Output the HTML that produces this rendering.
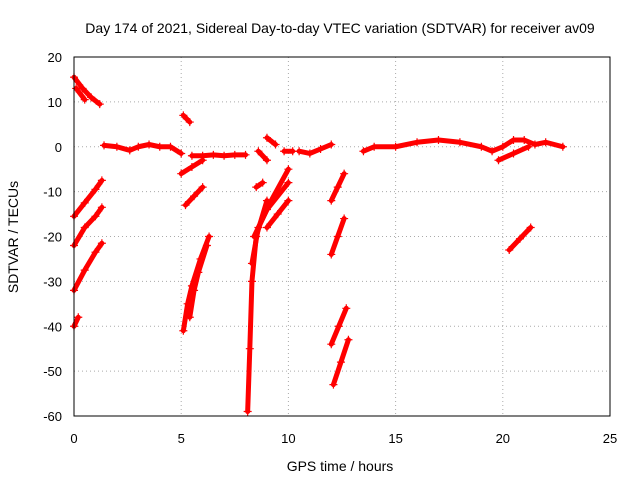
<!DOCTYPE html>
<html><head><meta charset="utf-8"><style>
body{margin:0;background:#fff;}
svg{display:block;font-family:"Liberation Sans",sans-serif;}
</style></head><body>
<svg id="chart" width="640" height="480">
<rect width="640" height="480" fill="#fff"/>
<text x="340" y="33" font-size="14" text-anchor="middle">Day 174 of 2021, Sidereal Day-to-day VTEC variation (SDTVAR) for receiver av09</text>
<text x="340" y="471" font-size="14" text-anchor="middle">GPS time / hours</text>
<text x="18" y="237" font-size="14" text-anchor="middle" transform="rotate(-90 18 237)">SDTVAR / TECUs</text>
<g id="grid"></g><g id="series"></g>
<rect x="74" y="57" width="536" height="359" fill="none" stroke="#000"/>
</svg>
<script>
const xTicks=[0,5,10,15,20,25];
const yTicks=[20,10,0,-10,-20,-30,-40,-50,-60];
const tracks=[
[[0,15.5],[0.4,13],[0.8,11],[1.2,9.5]],
[[0.1,13],[0.5,10.5]],
[[0,-15.5],[0.5,-12.5],[1,-9.5],[1.3,-7.5]],
[[0,-22],[0.5,-18],[1,-15.5],[1.3,-13.5]],
[[0,-32],[0.5,-27.5],[1,-23.5],[1.3,-21.5]],
[[0,-40],[0.2,-38]],
[[1.4,0.3],[2,0],[2.6,-0.8],[3,0],[3.5,0.5],[4,0],[4.5,0],[5,-1.5]],
[[5.5,-2],[6,-2],[6.5,-1.8],[7,-2],[7.5,-1.8],[8,-1.8]],
[[5.1,7],[5.4,5.5]],
[[5,-6],[5.5,-4.5],[6,-3]],
[[5.2,-13],[5.6,-11],[6,-9]],
[[5.1,-41],[5.3,-35],[5.5,-31],[5.9,-25],[6.3,-20]],
[[5.4,-38],[5.6,-32],[5.8,-28],[6.2,-22]],
[[8.1,-59],[8.2,-45],[8.3,-30],[8.5,-20],[9,-12]],
[[8.3,-26],[8.6,-18],[9.2,-12],[10,-5]],
[[8.4,-20],[9,-14],[10,-8]],
[[9,-18],[9.5,-15],[10,-12]],
[[8.5,-9],[8.8,-8]],
[[8.6,-1],[9,-3]],
[[9,2],[9.4,0.5]],
[[9.8,-1],[10.2,-1]],
[[10.5,-1],[11,-1.5],[11.5,-0.5],[12,0.5]],
[[12,-12],[12.3,-9],[12.6,-6]],
[[12,-24],[12.3,-20],[12.6,-16]],
[[12,-44],[12.35,-40],[12.7,-36]],
[[12.1,-53],[12.45,-48],[12.8,-43]],
[[13.5,-1],[14,0],[15,0],[16,1],[17,1.5],[18,1],[19,0],[19.5,-1],[20,0],[20.5,1.5],[21,1.5],[21.5,0.5],[22,1],[22.8,0]],
[[19.8,-3],[20.5,-1.5],[21.2,0]],
[[20.3,-23],[20.8,-20.5],[21.3,-18]]
];
const NS="http://www.w3.org/2000/svg";
const X=v=>74+v*536/25, Y=v=>57+(20-v)*359/80;
const grid=document.getElementById('grid'), ser=document.getElementById('series');
function mk(tag,at,parent){const e=document.createElementNS(NS,tag);for(const k in at)e.setAttribute(k,at[k]);parent.appendChild(e);return e;}
xTicks.forEach(t=>{
 const l=mk('line',{x1:X(t),x2:X(t),y1:57,y2:416,stroke:'#aaa','stroke-dasharray':'1,3'},grid);
 
 
 const tx=mk('text',{x:X(t),y:443,'font-size':13,'text-anchor':'middle'},grid);tx.textContent=t;
 
 
});
yTicks.forEach(t=>{
 const l=mk('line',{x1:74,x2:610,y1:Y(t),y2:Y(t),stroke:'#aaa','stroke-dasharray':'1,3'},grid);
 
 
 const tx=mk('text',{x:62,y:Y(t)+5,'font-size':13,'text-anchor':'end'},grid);tx.textContent=t;
 
 
});
tracks.forEach(tr=>{
 const pl=mk('polyline',{points:tr.map(p=>X(p[0])+','+Y(p[1])).join(' '),fill:'none',stroke:'#f00','stroke-width':5,'stroke-linejoin':'round','stroke-linecap':'round'},ser);
 
 
 tr.forEach(p=>{
  const x=X(p[0]),y=Y(p[1]);
  const m=mk('path',{d:`M${x-4},${y}H${x+4}M${x},${y-4}V${y+4}`,stroke:'#f00','stroke-width':1.2},ser);
  
  
 });
});
</script>
</body></html>
